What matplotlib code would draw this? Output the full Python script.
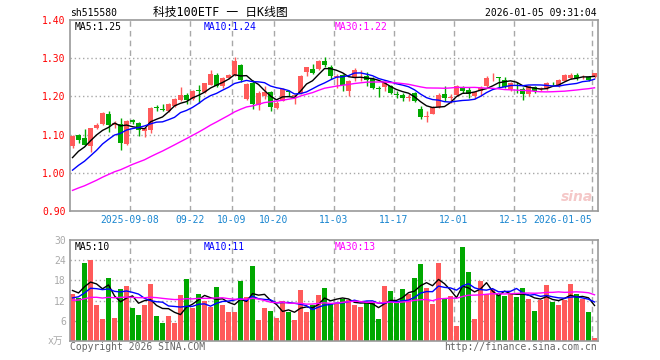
import numpy as np
import matplotlib
matplotlib.use("Agg")
import matplotlib.pyplot as plt

plt.rcParams['font.family'] = ['DejaVu Sans Mono', 'Noto Sans CJK SC']

# daily bars 2025-08-25 .. 2026-01-05 (88 trading days)
opens = [1.070, 1.098, 1.090, 1.071, 1.117, 1.127, 1.155, 1.124, 1.128, 1.075,
         1.137, 1.130, 1.110, 1.112, 1.172, 1.166, 1.162, 1.175, 1.191, 1.204,
         1.193, 1.216, 1.211, 1.231, 1.257, 1.226, 1.248, 1.256, 1.282, 1.193,
         1.234, 1.178, 1.202, 1.212, 1.170, 1.189, 1.213, 1.200, 1.208, 1.265,
         1.272, 1.272, 1.292, 1.276, 1.250, 1.257, 1.215, 1.252, 1.255, 1.254,
         1.245, 1.221, 1.225, 1.226, 1.206, 1.204, 1.195, 1.209, 1.168, 1.146,
         1.155, 1.172, 1.207, 1.196, 1.203, 1.223, 1.217, 1.200, 1.213, 1.227,
         1.247, 1.250, 1.244, 1.219, 1.231, 1.220, 1.207, 1.224, 1.219, 1.221,
         1.235, 1.227, 1.241, 1.248, 1.257, 1.250, 1.252, 1.250]
highs = [1.098, 1.101, 1.114, 1.118, 1.130, 1.160, 1.161, 1.135, 1.144, 1.137,
         1.142, 1.132, 1.118, 1.173, 1.178, 1.180, 1.182, 1.196, 1.224, 1.208,
         1.216, 1.230, 1.236, 1.269, 1.260, 1.250, 1.258, 1.304, 1.284, 1.235,
         1.242, 1.214, 1.228, 1.215, 1.187, 1.223, 1.216, 1.207, 1.256, 1.278,
         1.284, 1.294, 1.304, 1.281, 1.258, 1.259, 1.243, 1.274, 1.268, 1.263,
         1.250, 1.228, 1.241, 1.229, 1.215, 1.210, 1.205, 1.212, 1.175, 1.161,
         1.176, 1.210, 1.228, 1.206, 1.230, 1.228, 1.224, 1.213, 1.226, 1.254,
         1.261, 1.252, 1.252, 1.237, 1.237, 1.224, 1.228, 1.226, 1.224, 1.239,
         1.239, 1.245, 1.259, 1.261, 1.261, 1.256, 1.254, 1.262]
lows = [1.066, 1.078, 1.072, 1.054, 1.114, 1.125, 1.107, 1.118, 1.059, 1.072,
        1.128, 1.096, 1.095, 1.105, 1.163, 1.163, 1.160, 1.172, 1.188, 1.180,
        1.190, 1.184, 1.209, 1.229, 1.225, 1.222, 1.246, 1.254, 1.239, 1.190,
        1.168, 1.165, 1.193, 1.162, 1.168, 1.187, 1.200, 1.180, 1.205, 1.253,
        1.259, 1.270, 1.276, 1.246, 1.222, 1.215, 1.200, 1.241, 1.241, 1.228,
        1.220, 1.199, 1.213, 1.207, 1.197, 1.189, 1.188, 1.186, 1.141, 1.132,
        1.153, 1.170, 1.189, 1.184, 1.200, 1.208, 1.197, 1.193, 1.202, 1.224,
        1.240, 1.222, 1.222, 1.213, 1.210, 1.191, 1.202, 1.208, 1.215, 1.217,
        1.230, 1.225, 1.240, 1.246, 1.243, 1.245, 1.240, 1.249]
closes = [1.096, 1.085, 1.074, 1.116, 1.124, 1.156, 1.124, 1.131, 1.079, 1.135,
          1.134, 1.112, 1.116, 1.170, 1.169, 1.164, 1.180, 1.193, 1.204, 1.191,
          1.213, 1.213, 1.234, 1.259, 1.228, 1.248, 1.256, 1.292, 1.244, 1.232,
          1.180, 1.208, 1.212, 1.172, 1.183, 1.219, 1.211, 1.203, 1.253, 1.276,
          1.262, 1.292, 1.281, 1.253, 1.254, 1.229, 1.241, 1.270, 1.257, 1.243,
          1.222, 1.219, 1.236, 1.210, 1.203, 1.195, 1.198, 1.189, 1.146, 1.149,
          1.172, 1.204, 1.196, 1.199, 1.227, 1.214, 1.207, 1.211, 1.223, 1.247,
          1.249, 1.248, 1.225, 1.235, 1.229, 1.205, 1.226, 1.214, 1.221, 1.236,
          1.234, 1.243, 1.255, 1.257, 1.248, 1.252, 1.244, 1.261]
volumes = [13.9, 12.9, 23.2, 24.1, 10.7, 6.6, 18.7, 6.8, 15.4, 16.3,
           9.8, 7.8, 10.7, 17.0, 7.5, 5.3, 7.5, 5.3, 13.6, 18.5,
           9.8, 13.9, 11.9, 10.2, 16.0, 10.7, 8.6, 8.6, 17.9, 13.0,
           22.3, 6.3, 9.8, 9.0, 6.8, 12.0, 8.6, 6.3, 15.1, 8.6,
           10.7, 13.7, 15.7, 11.0, 11.0, 12.5, 12.2, 10.7, 10.0, 11.2,
           11.2, 6.5, 16.4, 14.9, 11.2, 15.4, 13.9, 18.7, 22.9, 15.7,
           10.9, 23.2, 12.4, 13.3, 4.6, 28.0, 20.5, 6.5, 17.7, 13.9,
           15.5, 13.7, 13.3, 13.9, 13.0, 15.7, 12.4, 9.0, 12.2, 16.6,
           11.5, 10.7, 12.2, 17.0, 13.9, 12.4, 8.6, 0.8]

# sessions before the window, only needed to start the moving averages
prior_close = [0.895, 0.902, 0.899, 0.908, 0.915, 0.910, 0.918, 0.921, 0.927, 0.922,
               0.930, 0.936, 0.928, 0.941, 0.946, 0.939, 0.950, 0.955, 0.948, 0.960,
               0.958, 0.966, 0.975, 0.982, 0.989, 1.002, 1.018, 1.035, 1.048]
prior_vol = [10.5, 12.8, 11.2, 9.8, 13.5, 12.1, 10.9, 11.6, 14.2, 12.4,
             10.1, 11.3, 12.9, 10.7, 11.8, 13.1, 10.4, 11.9, 12.6, 11.2,
             9.5, 11.8, 10.2, 12.0, 9.5, 16.5, 14.0, 17.2, 13.4]

tick_idx = [10, 20, 27, 34, 44, 54, 64, 74, 87]
tick_lbl = ["2025-09-08", "09-22", "10-09", "10-20", "11-03", "11-17",
            "12-01", "12-15", "2026-01-05"]

RED = '#ff5a5a'
GREEN = '#00a800'
GRID = '#a8a8a8'


def sma(a, n, keep):
    return np.convolve(a, np.ones(n) / n, mode='valid')[-keep:]


n = len(closes)
x = np.arange(n)
o = np.array(opens); h = np.array(highs); l = np.array(lows); c = np.array(closes)
up = c >= o
cols = np.where(up, RED, GREEN)

allc = np.array(prior_close + closes)
allv = np.array(prior_vol + volumes)

fig = plt.figure(figsize=(6.6, 3.6), dpi=100)
W, H = 660, 360
ax = fig.add_axes([70 / W, 1 - 211 / H, 528 / W, 191 / H])
axv = fig.add_axes([70 / W, 1 - 341 / H, 528 / W, 101 / H])

for a in (ax, axv):
    a.set_xlim(-0.42, n - 0.42)
    for s in a.spines.values():
        s.set_color('#999999')
        s.set_linewidth(1.2)
    for i in tick_idx:
        a.axvline(i - 0.42, color=GRID, lw=1, ls=(0, (4, 3)), zorder=0)

# price panel
ax.set_ylim(0.90, 1.40)
for yv in [1.0, 1.1, 1.2, 1.3]:
    ax.axhline(yv, color=GRID, lw=1, ls=(0, (1, 2)), zorder=0)
ax.vlines(x, l, h, colors=cols, lw=1, zorder=2)
body = np.maximum(np.abs(c - o), 0.0015)
ax.bar(x, body, bottom=np.minimum(o, c), width=0.8, color=cols, lw=0, zorder=3)
ax.plot(x, sma(allc, 5, n), color='black', lw=1, zorder=4)
ax.plot(x, sma(allc, 10, n), color='#0000ff', lw=1, zorder=4)
ax.plot(x, sma(allc, 30, n), color='#ff00ff', lw=1, zorder=4)

ax.set_yticks([0.9, 1.0, 1.1, 1.2, 1.3, 1.4])
ax.set_yticklabels(["%.2f" % v for v in [0.9, 1.0, 1.1, 1.2, 1.3, 1.4]],
                   color='#ff0000', fontsize=7)
ax.set_xticks([i - 0.42 for i in tick_idx])
ax.set_xticklabels(tick_lbl, color='#1a86d0', fontsize=7)
ax.get_xticklabels()[-1].set_horizontalalignment('right')
ax.tick_params(length=0, pad=3)

ax.text(5 / 528, 1 - 6.5 / 191, "MA5:1.25", transform=ax.transAxes,
        color='black', fontsize=7, va='center')
ax.text(134 / 528, 1 - 6.5 / 191, "MA10:1.24", transform=ax.transAxes,
        color='#0000ff', fontsize=7, va='center')
ax.text(265 / 528, 1 - 6.5 / 191, "MA30:1.22", transform=ax.transAxes,
        color='#ff00ff', fontsize=7, va='center')
# faint sina watermark
ax.text(0.99, 0.075, "sina", transform=ax.transAxes, ha='right', va='center',
        color='#f5c8c8', fontsize=10, fontweight='bold', style='italic',
        family='DejaVu Sans', zorder=1)

# volume panel
axv.set_ylim(0, 30)
for yv in [6, 12, 18, 24]:
    axv.axhline(yv, color=GRID, lw=1, ls=(0, (1, 2)), zorder=0)
axv.bar(x, volumes, width=0.8, color=cols, lw=0, zorder=2)
axv.plot(x, sma(allv, 5, n), color='black', lw=1, zorder=3)
axv.plot(x, sma(allv, 10, n), color='#0000ff', lw=1, zorder=3)
axv.plot(x, sma(allv, 30, n), color='#ff00ff', lw=1, zorder=3)
axv.set_xticks([])
axv.set_yticks([6, 12, 18, 24, 30])
axv.set_yticklabels(["6", "12", "18", "24", "30"], color='#aaaaaa', fontsize=7)
axv.tick_params(length=0, pad=3)

axv.text(5 / 528, 1 - 6.5 / 101, "MA5:10", transform=axv.transAxes,
         color='black', fontsize=7, va='center')
axv.text(134 / 528, 1 - 6.5 / 101, "MA10:11", transform=axv.transAxes,
         color='#0000ff', fontsize=7, va='center')
axv.text(265 / 528, 1 - 6.5 / 101, "MA30:13", transform=axv.transAxes,
         color='#ff00ff', fontsize=7, va='center')

# header and footer texts
fig.text(70 / W, 1 - 12.5 / H, "sh515580", fontsize=7, va='center', color='black')
fig.text(220 / W, 1 - 12.5 / H, "科技100ETF 一 日K线图", fontsize=8.5,
         ha='center', va='center', color='black')
fig.text(597 / W, 1 - 12.5 / H, "2026-01-05 09:31:04", fontsize=7,
         ha='right', va='center', color='black')
fig.text(63 / W, 1 - 341 / H, "x万", fontsize=7, ha='right', va='center',
         color='#aaaaaa')
fig.text(70 / W, 1 - 346.5 / H, "Copyright 2026 SINA.COM", fontsize=7,
         va='center', color='#666666')
fig.text(597 / W, 1 - 346.5 / H, "http://finance.sina.com.cn", fontsize=7,
         ha='right', va='center', color='#666666')

fig.savefig("out.png", dpi=100, facecolor='white')
